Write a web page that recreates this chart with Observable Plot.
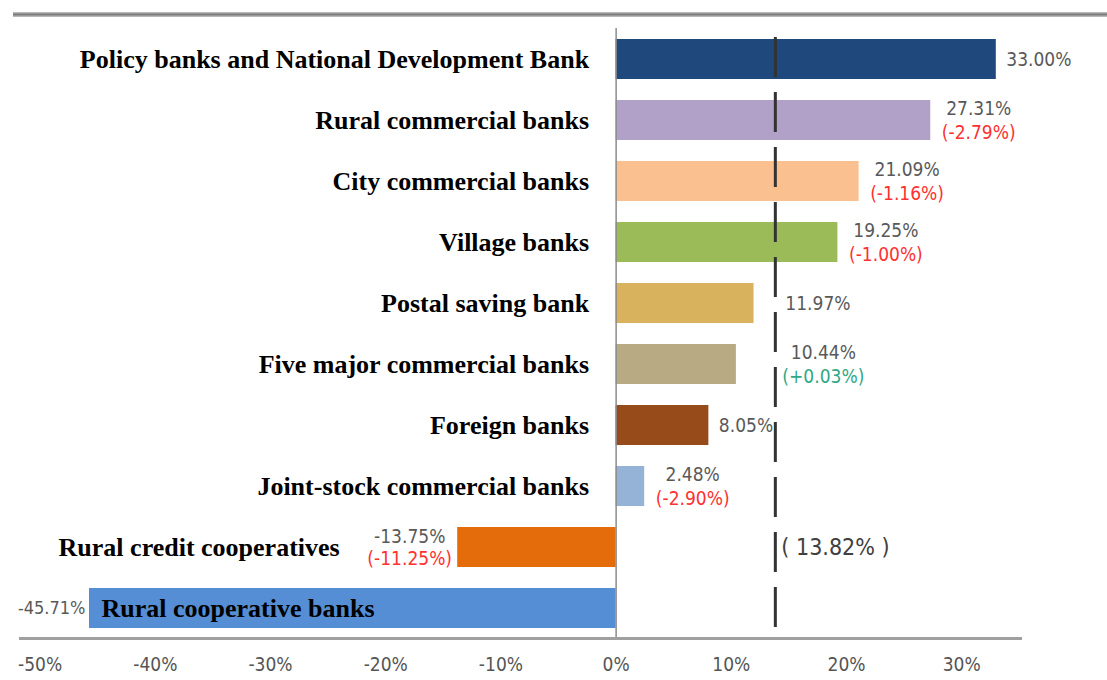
<!DOCTYPE html>
<html><head><meta charset="utf-8">
<script src="https://cdn.jsdelivr.net/npm/d3@7"></script>
<script src="https://cdn.jsdelivr.net/npm/@observablehq/plot@0.6"></script>
<style>
body{margin:0;background:#fff;}
#wrap{position:relative;width:1107px;height:680px;overflow:hidden;}
#topline{position:absolute;left:13px;right:0;top:12px;height:5px;background:linear-gradient(#c8c8c8,#7a7a7a,#c8c8c8);}
#wrap svg{display:block;}
</style></head><body><div id="wrap"><div id="topline"></div></div>
<script>
const categories = [
  "Policy banks and National Development Bank",
  "Rural commercial banks",
  "City commercial banks",
  "Village banks",
  "Postal saving bank",
  "Five major commercial banks",
  "Foreign banks",
  "Joint-stock commercial banks",
  "Rural credit cooperatives",
  "Rural cooperative banks"
];
const values = [33.00, 27.31, 21.09, 19.25, 11.97, 10.44, 8.05, 2.48, -13.75, -45.71];
const changes = [null, -2.79, -1.16, -1.00, null, 0.03, null, -2.90, -11.25, null];
const palette = ["#1f497d", "#b1a0c7", "#fac090", "#9bbb59", "#d8b25c", "#b8aa82", "#974a1a", "#95b3d7", "#e46c0a", "#558ed5"];
const average = 13.82;
const xTicks = [-50, -40, -30, -20, -10, 0, 10, 20, 30];

const rows = categories.map((name, i) => ({name, value: values[i], change: changes[i]}));
const locale = d3.formatLocale({decimal: ".", thousands: ",", grouping: [3], currency: ["", ""], minus: "-"});
const fmt2 = locale.format(".2f");
const fmtS = locale.format("+.2f");
const pct = v => fmt2(v) + "%";
const chg = v => "(" + fmtS(v) + "%)";
const labelX = d => (d.value > 0 && d.value < average && d.value + 5 > average) ? average : d.value;

const narrow = "'Liberation Sans Narrow','Arial Narrow','DejaVu Sans Condensed','Liberation Sans',sans-serif";
const serif = "'Liberation Serif','Times New Roman',serif";

const pos = rows.filter(d => d.value >= 0);
const neg = rows.filter(d => d.value < 0);
const posSingle = pos.filter(d => d.change == null);
const posDouble = pos.filter(d => d.change != null);
const negSingle = neg.filter(d => d.change == null);
const negDouble = neg.filter(d => d.change != null);
const chColor = d => d.change < 0 ? "#ff3030" : "#30a888";

const plot = Plot.plot({
  width: 1107,
  height: 680,
  marginTop: 28,
  marginBottom: 42,
  marginLeft: 20,
  marginRight: 87,
  style: {fontFamily: narrow, fontSize: "20px", background: "#fff"},
  x: {domain: [-51.7, 35.1], axis: null},
  y: {domain: categories, paddingInner: 0.35, paddingOuter: 0.13, axis: null},
  color: {domain: categories, range: palette},
  marks: [
    Plot.barX(rows, {x: "value", y: "name", fill: "name"}),
    Plot.ruleX([0], {stroke: "#8c8c8c", strokeWidth: 1.5}),
    Plot.ruleX([average], {stroke: "#333", strokeWidth: 3, strokeDasharray: "40,15", strokeDashoffset: 46}),
    Plot.frame({anchor: "bottom", stroke: "#a0a0a0", strokeWidth: 3}),
    Plot.axisX(xTicks, {anchor: "bottom", label: null, tickSize: 0, tickPadding: 19, tickFormat: d => d + "%", fontSize: 19, color: "#555", fontFamily: narrow}),
    // category labels
    Plot.text(pos, {x: 0, y: "name", text: "name", textAnchor: "end", dx: -27, fontFamily: serif, fontWeight: "bold", fontSize: 26, fill: "#000"}),
    Plot.text(neg.filter(d => d.value > -30), {x: "value", y: "name", text: "name", textAnchor: "end", dx: -118, fontFamily: serif, fontWeight: "bold", fontSize: 26, fill: "#000"}),
    Plot.text(neg.filter(d => d.value <= -30), {x: "value", y: "name", text: "name", textAnchor: "start", dx: 12, fontFamily: serif, fontWeight: "bold", fontSize: 26, fill: "#000"}),
    // value labels
    Plot.text(posSingle, {x: labelX, y: "name", text: d => pct(d.value), textAnchor: "start", dx: 10, fill: "#595959", fontSize: 19}),
    Plot.text(posDouble, {x: labelX, y: "name", text: d => pct(d.value), textAnchor: "middle", dx: 48, dy: -12, fill: "#595959", fontSize: 19}),
    Plot.text(posDouble, {x: labelX, y: "name", text: d => chg(d.change), textAnchor: "middle", dx: 48, dy: 12, fill: chColor, fontSize: 19}),
    Plot.text(negSingle, {x: "value", y: "name", text: d => pct(d.value), textAnchor: "end", dx: -4, fill: "#595959", fontSize: 18}),
    Plot.text(negDouble, {x: "value", y: "name", text: d => pct(d.value), textAnchor: "middle", dx: -48, dy: -11, fill: "#595959", fontSize: 19}),
    Plot.text(negDouble, {x: "value", y: "name", text: d => chg(d.change), textAnchor: "middle", dx: -48, dy: 11, fill: chColor, fontSize: 19}),
    // average label
    Plot.text([average], {x: d => d, y: () => categories[8], text: d => "( " + fmt2(d) + "% )", textAnchor: "start", dx: 6, fill: "#404040", fontSize: 23})
  ]
});
document.getElementById("wrap").appendChild(plot);
</script>
</body></html>
